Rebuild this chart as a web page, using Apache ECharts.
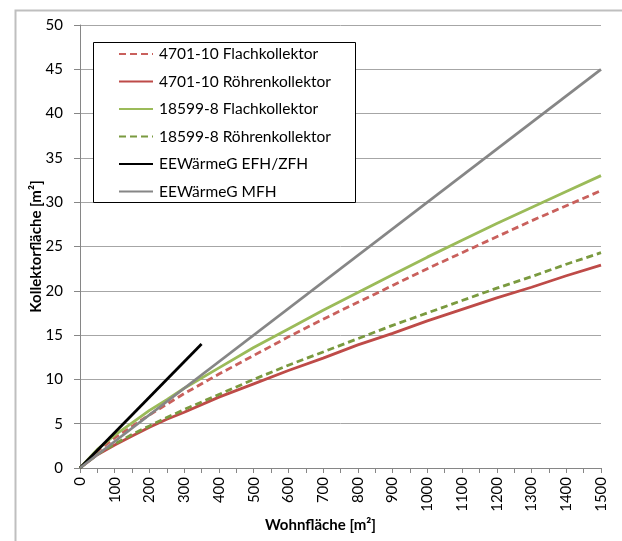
<!DOCTYPE html>
<html>
<head>
<meta charset="utf-8">
<script src="https://cdn.jsdelivr.net/npm/echarts@6/dist/echarts.min.js"></script>
<style>
html,body{margin:0;padding:0;background:#fff;}
#chart{width:622px;height:541px;}
</style>
</head>
<body>
<div id="chart"></div>
<script>
// Wohnfläche sample points [m²]
const wohnflaeche = [0, 50, 100, 150, 200, 250, 300, 400, 500, 600, 700, 800, 900, 1000, 1100, 1200, 1300, 1400, 1500];
// Kollektorfläche [m²]
const flach4701   = [0, 1.9, 3.4, 4.7, 6.0, 7.2, 8.4, 10.6, 12.7, 14.8, 16.8, 18.7, 20.6, 22.5, 24.3, 26.1, 27.9, 29.6, 31.3];
const roehren4701 = [0, 1.5, 2.6, 3.6, 4.6, 5.5, 6.3, 8.0, 9.5, 11.0, 12.4, 13.9, 15.2, 16.6, 17.9, 19.2, 20.4, 21.7, 22.9];
const flach18599  = [0, 2.1, 3.7, 5.1, 6.5, 7.7, 9.0, 11.3, 13.6, 15.7, 17.8, 19.8, 21.8, 23.8, 25.7, 27.6, 29.4, 31.2, 33.0];
const roehren18599= [0, 1.55, 2.7, 3.8, 4.75, 5.7, 6.6, 8.3, 10.0, 11.6, 13.1, 14.6, 16.1, 17.5, 18.9, 20.3, 21.6, 23.0, 24.3];
const efhX = [0, 350];
const efhY = [0, 14];
const mfhX = [0, 1500];
const mfhY = [0, 45];
const seriesNames = ['4701-10 Flachkollektor', '4701-10 Röhrenkollektor', '18599-8 Flachkollektor', '18599-8 Röhrenkollektor', 'EEWärmeG EFH/ZFH', 'EEWärmeG MFH'];
const xTicks = {min: 0, max: 1500, interval: 100};
const yTicks = {min: 0, max: 50, interval: 5};
const xTitle = 'Wohnfläche [m²]';
const yTitle = 'Kollektorfläche [m²]';

function pairs(xs, ys) { return xs.map((x, i) => [x, ys[i]]); }

const FONT = 'Lato, "Open Sans", sans-serif';
const chart = echarts.init(document.getElementById('chart'), null, {renderer: 'canvas'});

function lineSeries(name, data, color, dashed) {
  return {
    name: name, type: 'line', data: data, symbol: 'none', smooth: false,
    lineStyle: {color: color, width: 2.8, type: dashed ? [7, 4] : 'solid', cap: 'butt'},
    itemStyle: {color: color},
    emphasis: {disabled: true}, silent: true
  };
}

chart.setOption({
  animation: false,
  backgroundColor: '#fff',
  grid: {left: 80, right: 21, top: 25, bottom: 73, containLabel: false},
  graphic: [
    {type: 'rect', left: 13, top: 8, shape: {width: 800, height: 800},
     style: {fill: 'none', stroke: '#BFBFBF', lineWidth: 2}, z: -10, silent: true},
    {type: 'rect', shape: {x: 93.5, y: 42.5, width: 262, height: 160},
     style: {fill: '#fff', stroke: '#000', lineWidth: 1}, z: 5, silent: true}
  ],
  legend: {
    orient: 'vertical', left: 118, top: 46, padding: 0,
    itemWidth: 34, itemHeight: 14, itemGap: 11.5,
    itemStyle: {opacity: 0},
    textStyle: {fontFamily: FONT, fontSize: 15.5, color: '#000', lineHeight: 14, padding: [0, 0, 0, 1]},
    data: seriesNames.map(n => ({name: n})),
    selectedMode: false, z: 6
  },
  xAxis: {
    type: 'value', min: xTicks.min, max: xTicks.max, interval: xTicks.interval,
    name: xTitle, nameLocation: 'middle', nameGap: 50, nameMoveOverlap: false,
    nameTextStyle: {fontFamily: FONT, fontSize: 15, fontWeight: 'bold', color: '#000', padding: [0, 40, 0, 0]},
    axisLine: {show: true, lineStyle: {color: '#868686', width: 1}},
    axisTick: {show: true, length: 5, lineStyle: {color: '#868686'}},
    minorTick: {show: true, splitNumber: 2, length: 5, lineStyle: {color: '#868686'}},
    splitLine: {show: false},
    axisLabel: {rotate: 90, margin: 9, fontFamily: FONT, fontSize: 15, color: '#000',
                formatter: v => String(v)}
  },
  yAxis: {
    type: 'value', min: yTicks.min, max: yTicks.max, interval: yTicks.interval,
    name: yTitle, nameLocation: 'middle', nameGap: 36, nameRotate: 90, nameMoveOverlap: false,
    nameTextStyle: {fontFamily: FONT, fontSize: 15, fontWeight: 'bold', color: '#000'},
    axisLine: {show: true, lineStyle: {color: '#868686', width: 1}},
    axisTick: {show: true, length: 6, lineStyle: {color: '#868686'}},
    splitLine: {show: true, lineStyle: {color: '#A6A6A6', width: 1}},
    axisLabel: {margin: 17, fontFamily: FONT, fontSize: 15, color: '#000'}
  },
  series: [
    lineSeries(seriesNames[0], pairs(wohnflaeche, flach4701), '#C9605C', true),
    lineSeries(seriesNames[1], pairs(wohnflaeche, roehren4701), '#BE4B48', false),
    lineSeries(seriesNames[2], pairs(wohnflaeche, flach18599), '#9BBB59', false),
    lineSeries(seriesNames[3], pairs(wohnflaeche, roehren18599), '#7A9A3F', true),
    lineSeries(seriesNames[4], pairs(efhX, efhY), '#000000', false),
    lineSeries(seriesNames[5], pairs(mfhX, mfhY), '#868686', false)
  ]
});
</script>
</body>
</html>
